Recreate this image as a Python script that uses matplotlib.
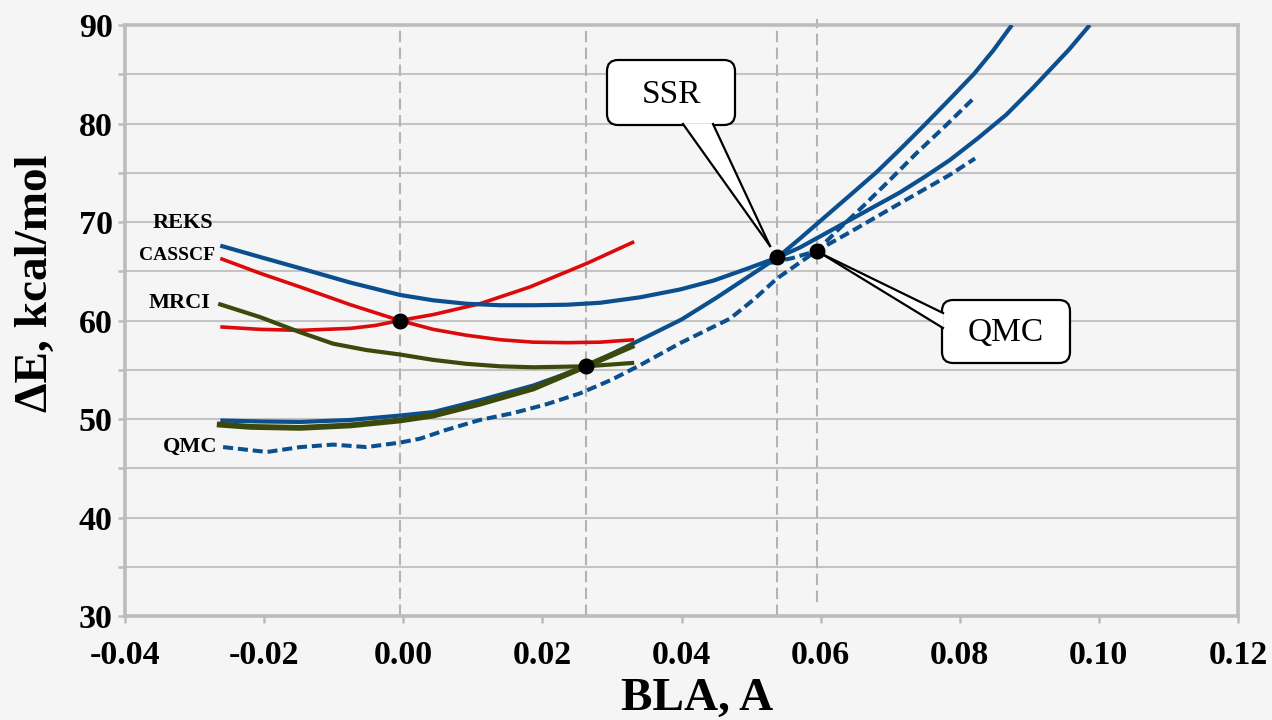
import matplotlib
matplotlib.use("Agg")
import matplotlib.pyplot as plt
from matplotlib.patches import FancyBboxPatch, Polygon
from matplotlib.lines import Line2D
from matplotlib.transforms import IdentityTransform
from matplotlib.ticker import MultipleLocator, FuncFormatter

# ---------------- data ----------------
# REKS / SSR (solid blue) - upper branch on the left, flatter branch on the right
reks_x = [-0.0263, -0.0206, -0.0148, -0.0076, -0.0005, 0.0043, 0.0091, 0.0139, 0.0187,
          0.0235, 0.0283, 0.0340, 0.0398, 0.0446, 0.0494, 0.0538, 0.0570, 0.0606,
          0.0642, 0.0678, 0.0714, 0.0750, 0.0786, 0.0826, 0.0867, 0.0905, 0.0925,
          0.0957, 0.0987]
reks_y = [67.6, 66.45, 65.3, 63.85, 62.6, 62.05, 61.7, 61.55, 61.55,
          61.6, 61.8, 62.35, 63.15, 64.05, 65.25, 66.4, 67.4, 68.8,
          70.2, 71.6, 73.0, 74.6, 76.3, 78.5, 80.9, 83.6, 85.1,
          87.5, 90.0]
# REKS / SSR (solid blue) - lower branch on the left, steeper branch on the right
ssr_x = [-0.0263, -0.0206, -0.0148, -0.0076, -0.0005, 0.0043, 0.0110, 0.0187, 0.0264,
         0.0340, 0.0400, 0.0450, 0.0508, 0.0538, 0.0570, 0.0606, 0.0642, 0.0681,
         0.0716, 0.0750, 0.0786, 0.0820, 0.0848, 0.0875]
ssr_y = [49.85, 49.75, 49.7, 49.9, 50.35, 50.7, 51.9, 53.4, 55.35,
         58.0, 60.1, 62.3, 65.0, 66.4, 68.3, 70.5, 72.7, 75.1,
         77.5, 79.9, 82.5, 85.0, 87.4, 90.0]
# CASSCF (red)
casscf_a_x = [-0.0263, -0.0206, -0.0148, -0.0076, -0.0005, 0.0043, 0.0091, 0.0139,
              0.0187, 0.0235, 0.0283, 0.0332]
casscf_a_y = [66.3, 64.8, 63.4, 61.6, 60.0, 59.1, 58.5, 58.05,
              57.8, 57.75, 57.8, 58.05]
casscf_b_x = [-0.0263, -0.0206, -0.0148, -0.0076, -0.0040, -0.0005, 0.0043, 0.0110,
              0.0182, 0.0264, 0.0332]
casscf_b_y = [59.35, 59.1, 59.0, 59.2, 59.5, 60.0, 60.6, 61.7,
              63.4, 65.8, 68.0]
# MRCI (dark green)
mrci_a_x = [-0.0266, -0.0206, -0.0148, -0.0101, -0.0053, -0.0005, 0.0043, 0.0091,
            0.0139, 0.0187, 0.0263, 0.0332]
mrci_a_y = [61.7, 60.35, 58.8, 57.65, 57.0, 56.55, 56.0, 55.6,
            55.35, 55.25, 55.35, 55.7]
mrci_b_x = [-0.0268, -0.0220, -0.0148, -0.0076, -0.0005, 0.0043, 0.0110, 0.0187,
            0.0262, 0.0332]
mrci_b_y = [49.45, 49.2, 49.1, 49.35, 49.85, 50.35, 51.55, 53.1,
            55.35, 57.5]
# QMC (dashed blue)
qmc_a_x = [-0.0259, -0.0196, -0.0148, -0.0101, -0.0053, -0.0005, 0.0024, 0.0062,
           0.0110, 0.0158, 0.0206, 0.0254, 0.0300, 0.0340, 0.0398, 0.0470, 0.0505,
           0.0537, 0.0594, 0.0628, 0.0661, 0.0700, 0.0738, 0.0780, 0.0822]
qmc_a_y = [47.15, 46.65, 47.15, 47.4, 47.15, 47.6, 48.0, 48.9,
           49.9, 50.6, 51.5, 52.6, 54.0, 55.45, 57.7, 60.2, 62.2,
           64.25, 67.06, 69.4, 71.6, 74.3, 77.0, 79.8, 82.7]
qmc_b_x = [0.0528, 0.0560, 0.0594, 0.0643, 0.0714, 0.0786, 0.0822]
qmc_b_y = [65.85, 66.35, 67.06, 69.0, 71.9, 74.8, 76.45]

# crossing points (dots + vertical reference lines)
cross_x = [-0.0005, 0.0263, 0.0538, 0.0595]
cross_y = [60.0, 55.35, 66.4, 67.1]

series_labels = ["REKS", "CASSCF", "MRCI", "QMC"]
callout_labels = ["SSR", "QMC"]
x_ticks = [-0.04, -0.02, 0.00, 0.02, 0.04, 0.06, 0.08, 0.10, 0.12]

# ---------------- styling ----------------
BLUE = "#0b4f8e"
RED = "#dc0a0a"
GREEN = "#3b4a0c"
GRAYLINE = "#c4c4c4"
SPINE = "#bcbcbc"
BG = "#f5f5f5"

plt.rcParams["font.family"] = ["Liberation Serif", "DejaVu Serif"]

W, H = 1272, 720
fig = plt.figure(figsize=(W / 100, H / 100), dpi=100)
fig.patch.set_facecolor(BG)
L, R, T, B = 125, 1238, 25, 616
ax = fig.add_axes([L / W, (H - B) / H, (R - L) / W, (B - T) / H])
ax.set_facecolor(BG)

ax.set_xlim(-0.04, 0.12)
ax.set_ylim(30, 90)

ax.set_xticks(x_ticks)
ax.xaxis.set_major_formatter(FuncFormatter(lambda v, p: f"{v:.2f}"))
ax.yaxis.set_major_locator(MultipleLocator(10))
ax.yaxis.set_minor_locator(MultipleLocator(5))
ax.yaxis.set_major_formatter(FuncFormatter(lambda v, p: f"{v:.0f}"))

for sp in ax.spines.values():
    sp.set_color(SPINE)
    sp.set_linewidth(2.6)

ax.tick_params(axis="both", which="both", direction="out", length=5, width=1.8,
               color=SPINE)
ax.tick_params(axis="x", pad=12, labelsize=24.5)
ax.tick_params(axis="y", pad=4, labelsize=24.5)
for lab in ax.get_xticklabels() + ax.get_yticklabels():
    lab.set_fontweight("bold")
ax.tick_params(axis="x", which="minor", bottom=False)

ax.yaxis.grid(True, which="both", color=GRAYLINE, linewidth=1.5, zorder=0)
ax.xaxis.grid(False)
ax.set_axisbelow(True)

# vertical dashed reference lines
dash = (0, (5.5, 2.6))
for i, xv in enumerate(cross_x):
    if i < 3:
        ax.plot([xv, xv], [30, 90], color="#b3b3b3", lw=1.5, ls=dash, zorder=1)
    else:
        ax.plot([xv, xv], [31.4, 90.6], color="#b3b3b3", lw=1.5, ls=dash, zorder=1,
                clip_on=False)

# curves
ax.plot(casscf_a_x, casscf_a_y, color=RED, lw=2.6, zorder=3, solid_capstyle="butt",
        solid_joinstyle="round")
ax.plot(casscf_b_x, casscf_b_y, color=RED, lw=2.6, zorder=3, solid_capstyle="butt",
        solid_joinstyle="round")
ax.plot(qmc_a_x, qmc_a_y, color=BLUE, lw=2.9, ls=(0, (2.5, 1.2)), zorder=3)
ax.plot(qmc_b_x, qmc_b_y, color=BLUE, lw=2.9, ls=(0, (2.5, 1.2)), zorder=3)
ax.plot(reks_x, reks_y, color=BLUE, lw=3.0, zorder=4, solid_capstyle="butt",
        solid_joinstyle="round")
ax.plot(ssr_x, ssr_y, color=BLUE, lw=3.0, zorder=4, solid_capstyle="butt",
        solid_joinstyle="round")
ax.plot(mrci_a_x, mrci_a_y, color=GREEN, lw=3.0, zorder=5, solid_capstyle="butt",
        solid_joinstyle="round")
ax.plot(mrci_b_x, mrci_b_y, color=GREEN, lw=4.2, zorder=5, solid_capstyle="butt",
        solid_joinstyle="round")

ax.plot(cross_x, cross_y, ls="none", marker="o", ms=10.5, color="black", zorder=8)

# series labels
lab_pos = [(-0.02735, 69.37, 16), (-0.02706, 66.12, 14), (-0.02778, 61.24, 16),
           (-0.02677, 46.64, 16)]
for txt, (lx, ly, fs) in zip(series_labels, lab_pos):
    ax.text(lx, ly, txt, ha="right", va="baseline", fontsize=fs, fontweight="bold",
            zorder=6)

# axis labels
ax.set_xlabel("BLA, A", fontsize=34, fontweight="bold")
ax.set_ylabel("ΔE, kcal/mol", fontsize=34, fontweight="bold")
ax.xaxis.set_label_coords((697 - L) / (R - L), -(678 - B) / (B - T))
ax.yaxis.set_label_coords(-(L - 57) / (R - L), (B - 283) / (B - T))


# callouts drawn in pixel coordinates (origin top-left of the image)
def px(x, y):
    return (x, H - y)


def callout(box, base1, base2, tip, text, center):
    x0, y0, x1, y1 = box
    bx, by = px(x0, y1)
    patch = FancyBboxPatch((bx, by), x1 - x0, y1 - y0,
                           boxstyle="round,pad=0,rounding_size=11",
                           transform=IdentityTransform(), facecolor="white",
                           edgecolor="black", linewidth=1.6, zorder=9)
    fig.add_artist(patch)
    poly = Polygon([px(*base1), px(*tip), px(*base2)], closed=True,
                   transform=IdentityTransform(), facecolor="white",
                   edgecolor="none", zorder=10)
    fig.add_artist(poly)
    for b in (base1, base2):
        p0, p1 = px(*b), px(*tip)
        fig.add_artist(Line2D([p0[0], p1[0]], [p0[1], p1[1]], color="black",
                              lw=1.6, transform=IdentityTransform(), zorder=11))
    cx, cy = px(*center)
    fig.text(cx / W, cy / H, text, ha="center", va="center", fontsize=24,
             zorder=12)


callout((607, 60, 735, 125), (683, 124), (713, 124), (770, 246), callout_labels[0],
        (671, 95))
callout((942, 300, 1070, 363), (943, 313), (943, 328), (822, 254), callout_labels[1],
        (1006, 333))

fig.savefig("out.png", dpi=100, facecolor=BG)
